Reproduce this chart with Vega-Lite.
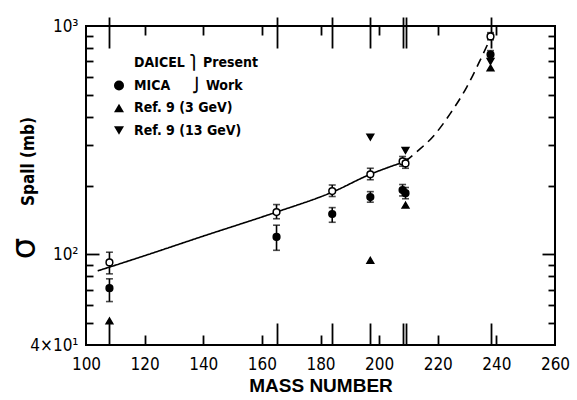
{
  "$schema": "https://vega.github.io/schema/vega-lite/v6.json",
  "width": 469,
  "height": 319,
  "autosize": "none",
  "padding": {"left": 86, "top": 26, "right": 22, "bottom": 55},
  "background": "white",
  "config": {
    "view": {"stroke": "black", "strokeWidth": 2},
    "font": "Liberation Sans Narrow, DejaVu Sans Condensed, sans-serif",
    "axis": {"grid": false, "domain": false, "tickColor": "black", "tickWidth": 1.8, "labelColor": "black", "titleColor": "black", "labelFont": "Liberation Sans Narrow, DejaVu Sans Condensed, sans-serif", "titleFont": "Liberation Sans Narrow, DejaVu Sans Condensed, sans-serif"},
    "legend": {"orient": "none", "legendX": 26, "legendY": 30, "padding": 0, "labelFontSize": 14, "labelColor": "black", "labelFont": "Liberation Sans Narrow, DejaVu Sans Condensed, sans-serif", "labelFontWeight": "bold", "rowPadding": 6.5, "symbolStrokeColor": "black", "symbolStrokeWidth": 1.5, "labelOffset": 8}
  },
  "datasets": {
    "pts": [
      {"mass": 108, "sigma": 92, "lo": 82, "hi": 102, "series": "DAICEL"},
      {"mass": 165, "sigma": 153, "lo": 143, "hi": 165, "series": "DAICEL"},
      {"mass": 184, "sigma": 189, "lo": 179, "hi": 201, "series": "DAICEL"},
      {"mass": 197, "sigma": 224, "lo": 212, "hi": 238, "series": "DAICEL"},
      {"mass": 208, "sigma": 255, "lo": 243, "hi": 268, "series": "DAICEL"},
      {"mass": 209, "sigma": 250, "lo": 238, "hi": 262, "series": "DAICEL"},
      {"mass": 238, "sigma": 900, "lo": 870, "hi": 935, "series": "DAICEL"},
      {"mass": 108, "sigma": 71, "lo": 62, "hi": 78, "series": "MICA"},
      {"mass": 165, "sigma": 119, "lo": 104, "hi": 134, "series": "MICA"},
      {"mass": 184, "sigma": 150, "lo": 138, "hi": 160, "series": "MICA"},
      {"mass": 197, "sigma": 178, "lo": 169, "hi": 188, "series": "MICA"},
      {"mass": 208, "sigma": 191, "lo": 180, "hi": 202, "series": "MICA"},
      {"mass": 209, "sigma": 185, "lo": 175, "hi": 196, "series": "MICA"},
      {"mass": 238, "sigma": 750, "lo": 720, "hi": 780, "series": "MICA"},
      {"mass": 108, "sigma": 51, "series": "Ref. 9 (3 GeV)"},
      {"mass": 197, "sigma": 94, "series": "Ref. 9 (3 GeV)"},
      {"mass": 209, "sigma": 164, "series": "Ref. 9 (3 GeV)"},
      {"mass": 238, "sigma": 655, "series": "Ref. 9 (3 GeV)"},
      {"mass": 197, "sigma": 326, "series": "Ref. 9 (13 GeV)"},
      {"mass": 209, "sigma": 285, "series": "Ref. 9 (13 GeV)"},
      {"mass": 238, "sigma": 700, "series": "Ref. 9 (13 GeV)"}
    ],
    "curve": [
      {"mass": 104, "sigma": 84.5, "seg": "solid"},
      {"mass": 120, "sigma": 98.5, "seg": "solid"},
      {"mass": 140, "sigma": 120, "seg": "solid"},
      {"mass": 165, "sigma": 153, "seg": "solid"},
      {"mass": 184, "sigma": 187, "seg": "solid"},
      {"mass": 197, "sigma": 224, "seg": "solid"},
      {"mass": 209, "sigma": 255, "seg": "solid"},
      {"mass": 209, "sigma": 255, "seg": "dashed"},
      {"mass": 213, "sigma": 282, "seg": "dashed"},
      {"mass": 218.5, "sigma": 329, "seg": "dashed"},
      {"mass": 224.2, "sigma": 412, "seg": "dashed"},
      {"mass": 229.9, "sigma": 540, "seg": "dashed"},
      {"mass": 234.4, "sigma": 705, "seg": "dashed"},
      {"mass": 237.8, "sigma": 875, "seg": "dashed"}
    ]
  },
  "resolve": {"scale": {"x": "shared", "y": "shared"}, "axis": {"x": "independent", "y": "independent"}},
  "layer": [
    {
      "data": {"name": "curve"},
      "mark": {"type": "line", "color": "black", "strokeWidth": 1.6, "interpolate": "monotone"},
      "encoding": {
        "x": {"field": "mass", "type": "quantitative", "scale": {"domain": [100, 260], "nice": false, "zero": false},
              "axis": {"orient": "bottom", "values": [100, 120, 140, 160, 180, 200, 220, 240, 260], "ticks": false, "labelPadding": 11, "labelFontSize": 17, "title": "MASS NUMBER", "titleFont": "Liberation Sans", "titleFontSize": 19, "titleFontWeight": "bold", "titleY": 40, "titleBaseline": "middle", "labelFlush": false}},
        "y": {"field": "sigma", "type": "quantitative", "scale": {"type": "log", "domain": [40, 1000], "nice": false},
              "axis": {"orient": "left", "values": [40, 100, 1000], "ticks": false, "labelPadding": 8, "labelFontSize": 17, "labelExpr": "datum.value == 40 ? '4×10¹' : datum.value == 100 ? '10²' : '10³'", "title": "σ", "titleFontSize": 34, "titleFont": "DejaVu Sans", "titleFontWeight": "normal", "titleX": -62, "titleY": 222, "titleAngle": -90, "titleAlign": "center", "titleBaseline": "middle", "labelFlush": false}},
        "strokeDash": {"field": "seg", "type": "nominal", "scale": {"domain": ["solid", "dashed"], "range": [[1, 0], [9, 6]]}, "legend": null}
      }
    },
    {
      "data": {"name": "pts"},
      "transform": [{"filter": "isValid(datum.lo)"}],
      "mark": {"type": "rule", "color": "black", "strokeWidth": 1.6},
      "encoding": {
        "x": {"field": "mass", "type": "quantitative",
              "axis": {"orient": "bottom", "values": [120, 140, 160, 180, 200, 220, 240], "labels": false, "offset": -10, "tickSize": 10, "title": null}},
        "y": {"field": "lo", "type": "quantitative",
              "axis": {"orient": "left", "values": [50, 60, 70, 80, 90, 200, 300, 400, 500, 600, 700, 800, 900], "labels": false, "offset": -7, "tickSize": 7, "title": "Spall  (mb)", "titleFontSize": 17, "titleFontWeight": "bold", "titleX": -65, "titleY": 135, "titleAngle": -90, "titleAlign": "center", "titleBaseline": "middle"}},
        "y2": {"field": "hi"}
      }
    },
    {
      "data": {"name": "pts"},
      "transform": [{"filter": "isValid(datum.lo)"}],
      "mark": {"type": "tick", "color": "black", "orient": "horizontal", "size": 7, "thickness": 1.6},
      "encoding": {
        "x": {"field": "mass", "type": "quantitative",
              "axis": {"orient": "bottom", "values": [108, 165, 184, 197, 208, 209, 238], "labels": false, "offset": -22, "tickSize": 22, "title": null}},
        "y": {"field": "lo", "type": "quantitative",
              "axis": {"orient": "left", "values": [100], "labels": false, "offset": -13, "tickSize": 13, "title": null}}
      }
    },
    {
      "data": {"name": "pts"},
      "transform": [{"filter": "isValid(datum.lo)"}],
      "mark": {"type": "tick", "color": "black", "orient": "horizontal", "size": 7, "thickness": 1.6},
      "encoding": {
        "x": {"field": "mass", "type": "quantitative",
              "axis": {"orient": "top", "values": [120, 140, 160, 180, 200, 220, 240], "labels": false, "offset": -9, "tickSize": 9, "title": null}},
        "y": {"field": "hi", "type": "quantitative",
              "axis": {"orient": "right", "values": [50, 60, 70, 80, 90, 200, 300, 400, 500, 600, 700, 800, 900], "labels": false, "offset": -7, "tickSize": 7, "title": null}}
      }
    },
    {
      "data": {"name": "pts"},
      "mark": {"type": "point", "stroke": "black", "strokeWidth": 1.5, "opacity": 1, "filled": false},
      "encoding": {
        "x": {"field": "mass", "type": "quantitative",
              "axis": {"orient": "top", "values": [108, 165, 184, 197, 208, 209, 238], "labels": false, "offset": -22, "tickSize": 31, "title": null}},
        "y": {"field": "sigma", "type": "quantitative",
              "axis": {"orient": "right", "values": [100], "labels": false, "offset": -13, "tickSize": 13, "title": null}},
        "shape": {"field": "series", "type": "nominal", "scale": {"domain": ["DAICEL", "MICA", "Ref. 9 (3 GeV)", "Ref. 9 (13 GeV)"], "range": ["circle", "circle", "triangle-up", "triangle-down"]},
                  "legend": {"title": null, "labelExpr": "datum.label == 'DAICEL' ? 'DAICEL ⎫ Present' : datum.label == 'MICA' ? 'MICA\u00a0\u00a0\u00a0\u00a0 ⎭ Work' : datum.label"}},
        "fill": {"field": "series", "type": "nominal", "scale": {"domain": ["DAICEL", "MICA", "Ref. 9 (3 GeV)", "Ref. 9 (13 GeV)"], "range": ["white", "black", "black", "black"]},
                 "legend": {"title": null, "labelExpr": "datum.label == 'DAICEL' ? 'DAICEL ⎫ Present' : datum.label == 'MICA' ? 'MICA\u00a0\u00a0\u00a0\u00a0 ⎭ Work' : datum.label"}},
        "size": {"value": 45}
      }
    }
  ]
}
